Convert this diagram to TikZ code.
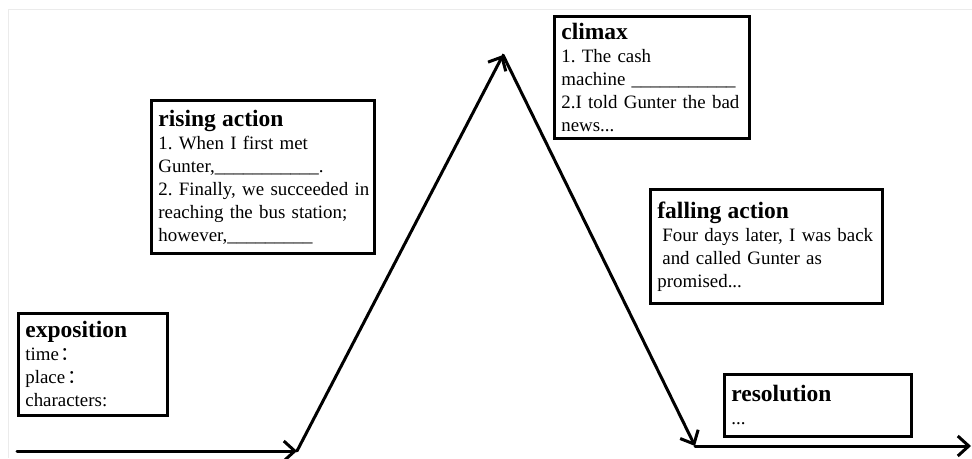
\documentclass[tikz,border=0pt]{standalone}
\usepackage{fontspec}
\setmainfont{Liberation Serif}
\newfontfamily\cjkfont{Noto Sans CJK SC}
\usetikzlibrary{arrows.meta}
\newcommand\plottitle[1]{\mbox{\fontsize{23.5}{23}\selectfont\bfseries #1}}
\newcommand\pline[1]{\mbox{#1}}
\newcommand\fwcolon{\hspace{2pt}{\cjkfont ：}}
\begin{document}
\begin{tikzpicture}[x=1pt,y=-1pt,
  plotbox/.style={draw, line width=2.8pt, inner xsep=7pt, inner ysep=0pt,
    anchor=north west, align=left, font=\fontsize{18.9}{23}\selectfont\frenchspacing},
  plotline/.style={line width=3pt, line cap=round,
    -{Straight Barb[length=11pt,width=20pt]}},
  frameline/.style={draw=black!8, line width=1pt}]
\useasboundingbox (0,0) rectangle (972,458);
\draw[frameline] (8,458) -- (8,9) -- (972,9);

\node[plotbox, minimum width=149, minimum height=102, text width=135] (expo) at (17,312)
  {\plottitle{exposition}\\\pline{time\fwcolon}\\\pline{place\fwcolon}\\\pline{characters:}};
\node[plotbox, minimum width=223, minimum height=153, text width=209] (rising) at (150,99)
  {\plottitle{rising action}\\\pline{1. When I first met}\\\pline{Gunter,\_\_\_\_\_\_\_\_\_\_\_.}\\\pline{2. Finally, we succeeded in}\\\pline{reaching the bus station;}\\\pline{however,\_\_\_\_\_\_\_\_\_}};
\node[plotbox, minimum width=195, minimum height=122, text width=181] (climax) at (553,15)
  {\plottitle{climax}\\\pline{1. The cash}\\\pline{machine \_\_\_\_\_\_\_\_\_\_\_}\\\pline{2.I told Gunter the bad}\\\pline{news...}};
\node[plotbox, minimum width=232, minimum height=114, text width=218] (falling) at (649,188)
  {\plottitle{falling action}\\\pline{\hspace*{5pt}Four days later, I was back}\\\pline{\hspace*{5pt}and called Gunter as}\\\pline{promised...}};
\node[plotbox, minimum width=187, minimum height=62, text width=173] (resol) at (723,373)
  {\plottitle{resolution}\\\pline{...}};

\coordinate (start) at (17,451);
\coordinate (base1) at (297,451);
\coordinate (peak) at (503,55);
\coordinate (base2) at (695,446);
\coordinate (finish) at (971,446);
\draw[plotline] (start) -- (base1);
\draw[plotline] (base1) -- (peak);
\draw[plotline] (peak) -- (base2);
\draw[plotline] (base2) -- (finish);
\end{tikzpicture}
\end{document}
